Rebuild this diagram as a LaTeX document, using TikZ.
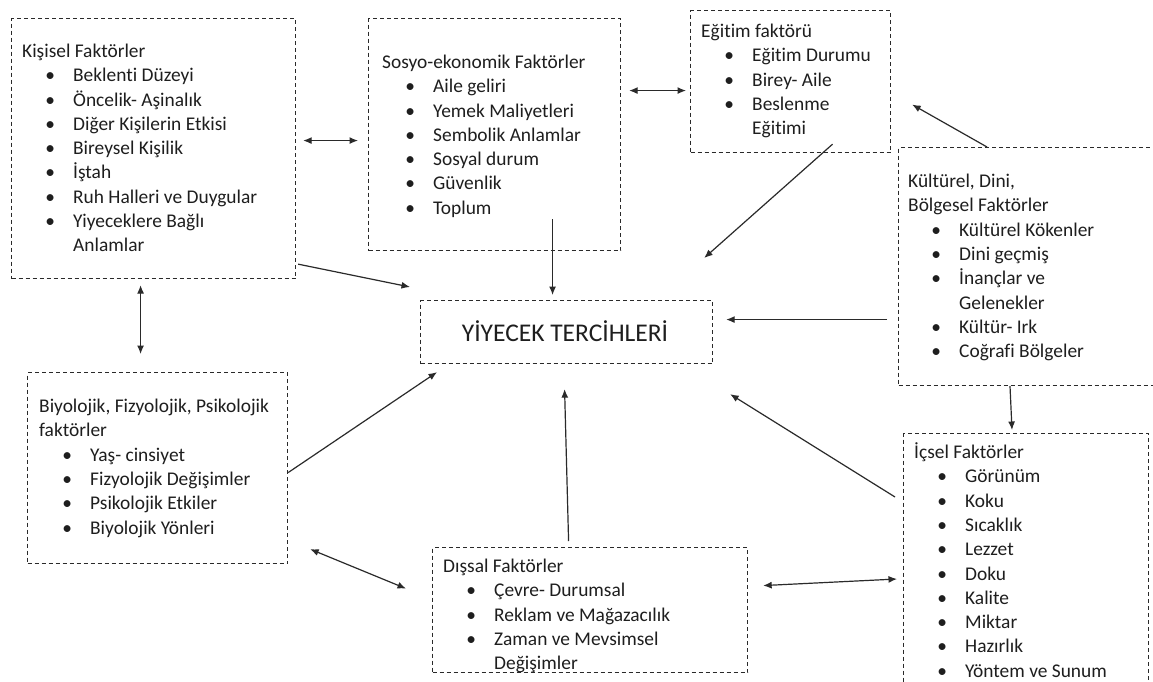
\documentclass[tikz,border=0pt]{standalone}
\usepackage{fontspec}
\setmainfont{Carlito}[Ligatures=NoCommon]
\usetikzlibrary{arrows.meta,calc}
\definecolor{ink}{HTML}{1E1E1E}
\definecolor{wire}{HTML}{2A2A2A}
% list lines: heading, bulleted item, continuation of an item
\newcommand\lhead[1]{\hbox{#1}}
\newcommand\lbul[1]{\hbox{\hspace*{28pt}\makebox[0pt]{\textbullet}\hspace*{23pt}#1}}
\newcommand\lcont[1]{\hbox{\hspace*{51pt}#1}}
\begin{document}
\begin{tikzpicture}[x=1pt,y=-1pt,
  box/.style={draw=wire, line width=1.15pt, dash pattern=on 4pt off 3pt, inner sep=0pt, anchor=north west},
  txt/.style={inner sep=0pt, anchor=base west, text=ink, font=\fontsize{19.4}{24.3}\selectfont},
  tip/.tip={Latex[length=8.5pt,width=7pt]},
  link/.style={draw=wire, line width=1.2pt, -tip},
  both/.style={draw=wire, line width=1.2pt, tip-tip}]
\useasboundingbox[fill=white] (0,0) rectangle (1153,682);

% frames
\node[box, minimum width=284pt, minimum height=260pt] (kis) at (11,18) {};
\node[box, minimum width=252pt, minimum height=232pt] (sos) at (368,18) {};
\node[box, minimum width=200pt, minimum height=142pt] (edu) at (690,10) {};
\node[box, minimum width=262pt, minimum height=238pt] (kul) at (898,147) {};
\node[box, minimum width=292pt, minimum height=63pt] (cen) at (420,300) {};
\node[box, minimum width=260pt, minimum height=191pt] (bio) at (27,372) {};
\node[box, minimum width=315pt, minimum height=125pt] (dis) at (432,547) {};
\node[box, minimum width=245pt, minimum height=267pt] (ics) at (903,433) {};

% contents
\node[txt] (kisT) at (22,57.5) {\vtop{%
  \lhead{Kişisel Faktörler}
  \lbul{Beklenti Düzeyi}
  \lbul{Öncelik- Aşinalık}
  \lbul{Diğer Kişilerin Etkisi}
  \lbul{Bireysel Kişilik}
  \lbul{İştah}
  \lbul{Ruh Halleri ve Duygular}
  \lbul{Yiyeceklere Bağlı}
  \lcont{Anlamlar}}};
\node[txt] (sosT) at (382,68.5) {\vtop{%
  \lhead{Sosyo-ekonomik Faktörler}
  \lbul{Aile geliri}
  \lbul{Yemek Maliyetleri}
  \lbul{Sembolik Anlamlar}
  \lbul{Sosyal durum}
  \lbul{Güvenlik}
  \lbul{Toplum}}};
\node[txt] (eduT) at (701,37.5) {\vtop{%
  \lhead{Eğitim faktörü}
  \lbul{Eğitim Durumu}
  \lbul{Birey- Aile}
  \lbul{Beslenme}
  \lcont{Eğitimi}}};
\node[txt] (kulT) at (908,187.5) {\vtop{%
  \lhead{Kültürel, Dini,}
  \lhead{Bölgesel Faktörler}
  \lbul{Kültürel Kökenler}
  \lbul{Dini geçmiş}
  \lbul{İnançlar ve}
  \lcont{Gelenekler}
  \lbul{Kültür- Irk}
  \lbul{Coğrafi Bölgeler}}};
\node[txt] (bioT) at (39,412.5) {\vtop{%
  \lhead{Biyolojik, Fizyolojik, Psikolojik}
  \lhead{faktörler}
  \lbul{Yaş- cinsiyet}
  \lbul{Fizyolojik Değişimler}
  \lbul{Psikolojik Etkiler}
  \lbul{Biyolojik Yönleri}}};
\node[txt] (disT) at (443,572.5) {\vtop{%
  \lhead{Dışsal Faktörler}
  \lbul{Çevre- Durumsal}
  \lbul{Reklam ve Mağazacılık}
  \lbul{Zaman ve Mevsimsel}
  \lcont{Değişimler}}};
\node[txt] (icsT) at (914,458.5) {\vtop{%
  \lhead{İçsel Faktörler}
  \lbul{Görünüm}
  \lbul{Koku}
  \lbul{Sıcaklık}
  \lbul{Lezzet}
  \lbul{Doku}
  \lbul{Kalite}
  \lbul{Miktar}
  \lbul{Hazırlık}
  \lbul{Yöntem ve Sunum}}};
\node[inner sep=0pt, anchor=base, text=ink, font=\fontsize{25.5}{30}\selectfont] (cenT) at (565,341) {YİYECEK TERCİHLERİ};

% connectors
\draw[both] ($(kis.east)+(7,-8)$) -- ($(sos.west)+(-10,6)$);
\draw[both] ($(sos.east)+(8,-44)$) -- ($(edu.west)+(-4,9)$);
\draw[link] ($(kis.south east)+(2,-15)$) -- ($(cen.north west)+(-10,-13)$);
\draw[link] ($(sos.south)+(58,-32)$) -- ($(cen.north)+(-14,-5)$);
\draw[link] ($(edu.south)+(42,-9)$) -- ($(cen.north east)+(-9,-42)$);
\draw[link] ($(kul.north west)+(89,0)$) -- ($(edu.east)+(21,23)$);
\draw[link] ($(kul.west)+(-11,53)$) -- ($(cen.east)+(13,-12.5)$);
\draw[link] ($(kul.south west)+(112,0)$) -- ($(ics.north west)+(109,-3)$);
\draw[link] ($(ics.north west)+(-8,64)$) -- ($(cen.south east)+(17,30)$);
\draw[both] ($(kis.south)+(-13,6)$) -- ($(bio.north)+(-17,-18)$);
\draw[link] ($(bio.east)+(0,4.5)$) -- ($(cen.south west)+(17,8)$);
\draw[both] ($(bio.south east)+(22,-15)$) -- ($(dis.west)+(-26,-21.5)$);
\draw[link] ($(dis.north)+(-21.5,-6)$) -- ($(cen.south)+(-2,25)$);
\draw[both] ($(dis.east)+(15,-24.5)$) -- ($(ics.north west)+(-6,146)$);
\end{tikzpicture}
\end{document}
